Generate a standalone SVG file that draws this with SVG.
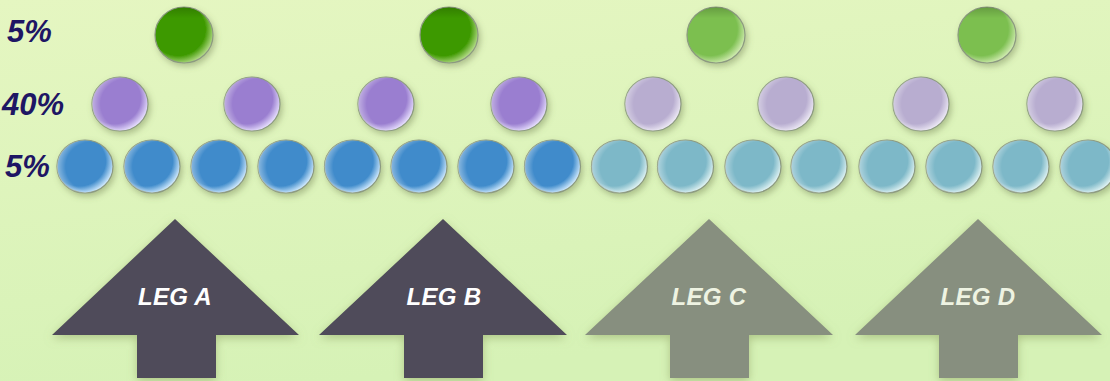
<svg xmlns="http://www.w3.org/2000/svg" width="1110" height="381" viewBox="0 0 1110 381">
<defs>
<linearGradient id="bg" x1="0" y1="0" x2="0.3" y2="1">
<stop offset="0" stop-color="#e5f6c1"/>
<stop offset="1" stop-color="#d6f2b6"/>
</linearGradient>
<radialGradient id="gA" cx="0.4" cy="0.4" r="0.65"><stop offset="0" stop-color="#3e9900"/><stop offset="0.72" stop-color="#3e9900"/><stop offset="0.97" stop-color="#b6dc8a"/></radialGradient>
<radialGradient id="gC" cx="0.4" cy="0.4" r="0.65"><stop offset="0" stop-color="#7cbf50"/><stop offset="0.72" stop-color="#7cbf50"/><stop offset="0.97" stop-color="#d2ecb2"/></radialGradient>
<radialGradient id="pA" cx="0.4" cy="0.4" r="0.65"><stop offset="0" stop-color="#9a7ed0"/><stop offset="0.72" stop-color="#9a7ed0"/><stop offset="0.97" stop-color="#e8e0ff"/></radialGradient>
<radialGradient id="pC" cx="0.4" cy="0.4" r="0.65"><stop offset="0" stop-color="#b8add0"/><stop offset="0.72" stop-color="#b8add0"/><stop offset="0.97" stop-color="#eeeaf6"/></radialGradient>
<radialGradient id="bA" cx="0.4" cy="0.4" r="0.65"><stop offset="0" stop-color="#3f8bcb"/><stop offset="0.72" stop-color="#3f8bcb"/><stop offset="0.97" stop-color="#d4ecff"/></radialGradient>
<radialGradient id="bC" cx="0.4" cy="0.4" r="0.65"><stop offset="0" stop-color="#7db8c8"/><stop offset="0.72" stop-color="#7db8c8"/><stop offset="0.97" stop-color="#e2f4f4"/></radialGradient>
<radialGradient id="gl" cx="0.62" cy="0.5" r="0.62">
<stop offset="0" stop-color="#ffffff" stop-opacity="0"/>
<stop offset="0.75" stop-color="#ffffff" stop-opacity="0"/>
<stop offset="1" stop-color="#ffffff" stop-opacity="0.4"/>
</radialGradient>
<linearGradient id="rim" x1="0" y1="0" x2="0" y2="1">
<stop offset="0" stop-color="#000000" stop-opacity="0.18"/>
<stop offset="0.2" stop-color="#000000" stop-opacity="0"/>
</linearGradient>
<filter id="sh" x="-30%" y="-30%" width="160%" height="160%"><feDropShadow dx="2" dy="3" stdDeviation="3" flood-color="#6f7f50" flood-opacity="0.45"/></filter>
<filter id="ash" x="-20%" y="-20%" width="140%" height="140%"><feDropShadow dx="0" dy="3" stdDeviation="5" flood-color="#8aa060" flood-opacity="0.55"/></filter>
</defs>
<style>
.c{stroke:#8c9a80;stroke-width:1.2;filter:url(#sh)}
.o{fill:url(#gl)}
.r{fill:url(#rim)}
.pct{font-family:"Liberation Sans",Arial,sans-serif;font-weight:bold;font-style:italic;font-size:31px;fill:#1e1664}
.leg{font-family:"Liberation Sans",Arial,sans-serif;font-weight:bold;font-style:italic;font-size:24px;letter-spacing:0.3px;text-anchor:middle}
.ad{fill:#4f4c5a;filter:url(#ash)}
.al{fill:#878f7f;filter:url(#ash)}
</style>
<rect width="1110" height="381" fill="url(#bg)"/>
<g id="labels">
<text class="pct" x="7" y="42">5%</text>
<text class="pct" x="2" y="115">40%</text>
<text class="pct" x="5" y="177">5%</text>
</g>
<g id="connectors"/>
<g id="green">
<g id="green-a"><ellipse class="c" cx="184" cy="35" rx="29" ry="28" fill="url(#gA)"/><ellipse class="r" cx="184" cy="35" rx="29" ry="28"/></g>
<g id="green-b"><ellipse class="c" cx="449" cy="35" rx="29" ry="28" fill="url(#gA)"/><ellipse class="r" cx="449" cy="35" rx="29" ry="28"/></g>
<g id="green-c"><ellipse class="c" cx="716" cy="35" rx="29" ry="28" fill="url(#gC)"/><ellipse class="r" cx="716" cy="35" rx="29" ry="28"/></g>
<g id="green-d"><ellipse class="c" cx="987" cy="35" rx="29" ry="28" fill="url(#gC)"/><ellipse class="r" cx="987" cy="35" rx="29" ry="28"/></g>
</g>
<g id="purple">
<g id="purple-1"><ellipse class="c" cx="120" cy="104" rx="28" ry="27" fill="url(#pA)"/><ellipse class="o" cx="120" cy="104" rx="28" ry="27"/></g>
<g id="purple-2"><ellipse class="c" cx="252" cy="104" rx="28" ry="27" fill="url(#pA)"/><ellipse class="o" cx="252" cy="104" rx="28" ry="27"/></g>
<g id="purple-3"><ellipse class="c" cx="386" cy="104" rx="28" ry="27" fill="url(#pA)"/><ellipse class="o" cx="386" cy="104" rx="28" ry="27"/></g>
<g id="purple-4"><ellipse class="c" cx="519" cy="104" rx="28" ry="27" fill="url(#pA)"/><ellipse class="o" cx="519" cy="104" rx="28" ry="27"/></g>
<g id="purple-5"><ellipse class="c" cx="653" cy="104" rx="28" ry="27" fill="url(#pC)"/><ellipse class="o" cx="653" cy="104" rx="28" ry="27"/></g>
<g id="purple-6"><ellipse class="c" cx="786" cy="104" rx="28" ry="27" fill="url(#pC)"/><ellipse class="o" cx="786" cy="104" rx="28" ry="27"/></g>
<g id="purple-7"><ellipse class="c" cx="921" cy="104" rx="28" ry="27" fill="url(#pC)"/><ellipse class="o" cx="921" cy="104" rx="28" ry="27"/></g>
<g id="purple-8"><ellipse class="c" cx="1055" cy="104" rx="28" ry="27" fill="url(#pC)"/><ellipse class="o" cx="1055" cy="104" rx="28" ry="27"/></g>
</g>
<g id="blue">
<g id="blue-1"><ellipse class="c" cx="85" cy="166.5" rx="28" ry="26.5" fill="url(#bA)"/><ellipse class="o" cx="85" cy="166.5" rx="28" ry="26.5"/></g>
<g id="blue-2"><ellipse class="c" cx="152" cy="166.5" rx="28" ry="26.5" fill="url(#bA)"/><ellipse class="o" cx="152" cy="166.5" rx="28" ry="26.5"/></g>
<g id="blue-3"><ellipse class="c" cx="219" cy="166.5" rx="28" ry="26.5" fill="url(#bA)"/><ellipse class="o" cx="219" cy="166.5" rx="28" ry="26.5"/></g>
<g id="blue-4"><ellipse class="c" cx="286" cy="166.5" rx="28" ry="26.5" fill="url(#bA)"/><ellipse class="o" cx="286" cy="166.5" rx="28" ry="26.5"/></g>
<g id="blue-5"><ellipse class="c" cx="352.5" cy="166.5" rx="28" ry="26.5" fill="url(#bA)"/><ellipse class="o" cx="352.5" cy="166.5" rx="28" ry="26.5"/></g>
<g id="blue-6"><ellipse class="c" cx="419" cy="166.5" rx="28" ry="26.5" fill="url(#bA)"/><ellipse class="o" cx="419" cy="166.5" rx="28" ry="26.5"/></g>
<g id="blue-7"><ellipse class="c" cx="486" cy="166.5" rx="28" ry="26.5" fill="url(#bA)"/><ellipse class="o" cx="486" cy="166.5" rx="28" ry="26.5"/></g>
<g id="blue-8"><ellipse class="c" cx="552.5" cy="166.5" rx="28" ry="26.5" fill="url(#bA)"/><ellipse class="o" cx="552.5" cy="166.5" rx="28" ry="26.5"/></g>
<g id="blue-9"><ellipse class="c" cx="619.5" cy="166.5" rx="28" ry="26.5" fill="url(#bC)"/><ellipse class="o" cx="619.5" cy="166.5" rx="28" ry="26.5"/></g>
<g id="blue-10"><ellipse class="c" cx="685.5" cy="166.5" rx="28" ry="26.5" fill="url(#bC)"/><ellipse class="o" cx="685.5" cy="166.5" rx="28" ry="26.5"/></g>
<g id="blue-11"><ellipse class="c" cx="753" cy="166.5" rx="28" ry="26.5" fill="url(#bC)"/><ellipse class="o" cx="753" cy="166.5" rx="28" ry="26.5"/></g>
<g id="blue-12"><ellipse class="c" cx="819" cy="166.5" rx="28" ry="26.5" fill="url(#bC)"/><ellipse class="o" cx="819" cy="166.5" rx="28" ry="26.5"/></g>
<g id="blue-13"><ellipse class="c" cx="887" cy="166.5" rx="28" ry="26.5" fill="url(#bC)"/><ellipse class="o" cx="887" cy="166.5" rx="28" ry="26.5"/></g>
<g id="blue-14"><ellipse class="c" cx="954" cy="166.5" rx="28" ry="26.5" fill="url(#bC)"/><ellipse class="o" cx="954" cy="166.5" rx="28" ry="26.5"/></g>
<g id="blue-15"><ellipse class="c" cx="1021" cy="166.5" rx="28" ry="26.5" fill="url(#bC)"/><ellipse class="o" cx="1021" cy="166.5" rx="28" ry="26.5"/></g>
<g id="blue-16"><ellipse class="c" cx="1088" cy="166.5" rx="28" ry="26.5" fill="url(#bC)"/><ellipse class="o" cx="1088" cy="166.5" rx="28" ry="26.5"/></g>
</g>
<g id="leg-a">
<polygon class="ad" points="175,219 299,335 216,335 216,378 137,378 137,335 52,335"/>
<text class="leg" x="175" y="305" fill="#ffffff">LEG A</text>
</g>
<g id="leg-b">
<polygon class="ad" points="443,219 567,335 483,335 483,378 404,378 404,335 319,335"/>
<text class="leg" x="444" y="305" fill="#ffffff">LEG B</text>
</g>
<g id="leg-c">
<polygon class="al" points="709,219 833,335 749,335 749,378 670,378 670,335 585,335"/>
<text class="leg" x="709" y="305" fill="#eef3e2">LEG C</text>
</g>
<g id="leg-d">
<polygon class="al" points="978,219 1102,335 1018,335 1018,378 939,378 939,335 855,335"/>
<text class="leg" x="978" y="305" fill="#eef3e2">LEG D</text>
</g>
</svg>
